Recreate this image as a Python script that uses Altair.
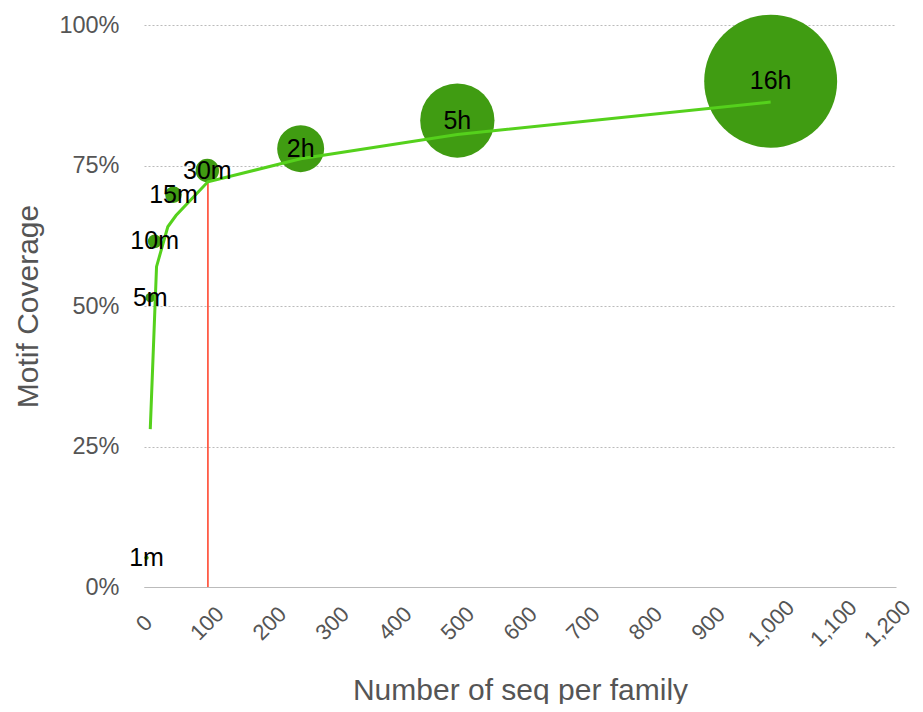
import altair as alt
import pandas as pd
import math

# Bubble series (run time as bubble size)
bubble_labels = ["1m", "5m", "10m", "15m", "30m", "2h", "5h", "16h"]
bubble_minutes = [1, 5, 10, 15, 30, 120, 300, 960]
bubble_x = [4, 10, 17, 47, 101, 250, 500, 1000]
bubble_y = [0.052, 0.515, 0.615, 0.698, 0.741, 0.78, 0.83, 0.90]

# Line series
line_x = [10, 20, 38, 51, 102, 250, 500, 1000]
line_y = [0.281, 0.570, 0.641, 0.661, 0.721, 0.762, 0.805, 0.863]

# Red marker
marker_x = [102]
marker_y0 = [0.0]
marker_y1 = [0.721]

x_ticks = list(range(0, 1201, 100))
y_ticks = [0, 0.25, 0.5, 0.75, 1.0]

FONT = "Liberation Sans"

df_b = pd.DataFrame({"x": bubble_x, "y": bubble_y, "minutes": bubble_minutes, "label": bubble_labels})
df_l = pd.DataFrame({"x": line_x, "y": line_y})
df_r = pd.DataFrame({"x": marker_x, "y": marker_y0, "y2": marker_y1})

x_axis = alt.Axis(
    values=x_ticks, format=",.0f", labelAngle=-45, labelAlign="center", labelBaseline="middle",
    labelPadding=36, labelFontSize=22, labelColor="#555555", labelFont=FONT,
    labelOffset={"condition": {"test": "datum.value >= 1200", "value": -9}, "value": 0},
    labelOverlap=False, labelFlush=False, labelBound=False, ticks=False, tickSize=0, grid=False,
    domainColor="#bbbbbb", domainWidth=1.2,
    title="Number of seq per family", titleFont=FONT, titleFontSize=30,
    titleFontWeight="normal", titleColor="#555555", titleBaseline="alphabetic",
    titleX=376, titleY=112, titleAlign="center",
)
y_axis = alt.Axis(
    values=y_ticks, format=".0%", domain=False, ticks=False, tickSize=0,
    labelPadding=25, labelFontSize=23.5, labelColor="#555555", labelFont=FONT,
    grid=True, gridDash=[2, 2], gridColor="#bbbbbb", gridWidth=1,
    title="Motif Coverage", titleFont=FONT, titleFontSize=30, titleFontWeight="normal",
    titleColor="#555555", titleAngle=270, titleBaseline="alphabetic",
    titleX=-107, titleY=281, titleAlign="center",
)

xs = alt.Scale(domain=[0, 1200], nice=False, zero=True)
ys = alt.Scale(domain=[0, 1], nice=False)

X = alt.X("x:Q", scale=xs, axis=x_axis)
Y = alt.Y("y:Q", scale=ys, axis=y_axis)

bubbles = alt.Chart(df_b).mark_circle(opacity=1, color="#409c12").encode(
    x=X, y=Y,
    size=alt.Size("minutes:Q", scale=alt.Scale(domain=[0, 960], range=[0, math.pi * 75 * 75]), legend=None),
)

rule = alt.Chart(df_r).mark_rule(color="#ff3b22", strokeWidth=1.5).encode(
    x=X, y=Y, y2="y2:Q"
)

line = alt.Chart(df_l).mark_line(color="#55d11c", strokeWidth=3).encode(
    x=X, y=Y, order="x:Q"
)

text = alt.Chart(df_b).mark_text(fontSize=25, font=FONT, color="#000000", baseline="middle", align="center").encode(
    x=X, y=Y, text="label:N"
)

chart = alt.layer(bubbles, rule, line, text).properties(
    width=752, height=562,
    autosize=alt.AutoSizeParams(type="none"),
    padding={"left": 136, "top": 17, "right": 19, "bottom": 117},
).configure_view(stroke=None)

chart.save("out.html", embed_options={"renderer": "svg", "actions": False})
